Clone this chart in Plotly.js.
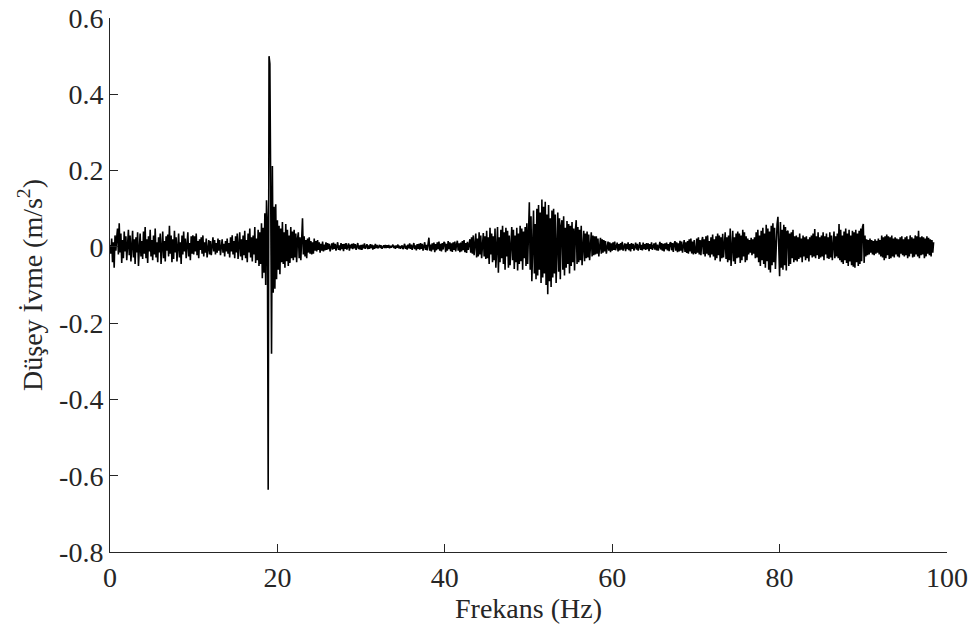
<!DOCTYPE html>
<html>
<head>
<meta charset="utf-8">
<script src="https://cdn.plot.ly/plotly-3.0.1.min.js"></script>
<style>html,body{margin:0;padding:0;background:#fff;}#chart{width:974px;height:634px;}</style>
</head>
<body>
<div id="chart"></div>
<script>
var band00to10 = [
  5, -18, 22, -40, 12, -55, 30, -10, 25, 48,
  -20, 62, -15, 35, -42, 18, -30, 40, -12, 28,
  -35, 15, 45, -22, 30, -38, 10, 42, -28, 20,
  -45, 25, -15, 38, -50, 22, 35, -25, 15, -32,
  40, -18, 52, -30, 20, -42, 28, -12, 45, -25,
  18, -35, 30, -20, 48, -28, 12, -40, 25, -15,
  35, -45, 22, 40, -30, 15, -38, 28, -10, 32,
  -25, 55, -18, 30, -40, 20, -32, 42, -15, 25,
  -38, 18, 35, -28, 12, -45, 30, -20, 40, -12,
  22, -30, 15, 38, -25, 10, -35, 28, -18, 30
];
var band10to18 = [
  -20, 28, -12, 35, -22, 15, -30, 20, -8, 25,
  -18, 30, -25, 12, -15, 22, -28, 10, 18, -20,
  15, -22, 8, 25, -12, 18, -20, 10, -15, 22,
  -10, 18, -22, 12, 20, -15, 8, -25, 15, -12,
  22, -18, 10, -28, 25, -12, 30, -20, 15, -30,
  28, -15, 35, -32, 12, 38, -25, 20, -35, 30,
  -22, 42, -30, 18, -40, 35, -15, 48, -28, 25,
  -38, 30, -20, 52, -42, 22, -35, 45, -50, 38
];
var band18to26 = [
  -45, 62, -82, 50, -68, 88, -100, 122, 60, -637,
  500, 480, 150, -280, 212, -120, 105, -110, 112, -85,
  70, -60, 55, -72, 48, -40, 65, -45, 38, -55,
  60, -38, 45, -50, 30, -42, 52, -30, 40, -35,
  45, -28, 35, -40, 22, 38, -30, 25, -35, 30,
  75, -20, 28, -25, 18, -30, 22, -15, 25, -18,
  15, -20, 12, -18, 22, -10, 15, -12, 18, -8,
  12, -15, 8, -10, 14, -12, 6, -9, 12, -8
];
var band26to43 = [
  10, -6, 8, -12, 5, 9, -7, 11, -5, 8,
  -10, 6, 12, -8, 4, -9, 10, -6, 7, -11,
  8, -5, 10, -7, 3, 9, -10, 6, -4, 8,
  -6, 9, -4, 7, -8, 5, 10, -6, 4, -7,
  5, -8, 6, -4, 9, -5, 3, 7, -6, 4,
  -5, 7, -3, 6, -7, 4, -5, 8, -3, 5,
  -4, 3, 5, -3, 4, -5, 2, 4, -3, 5,
  -3, 4, -2, 5, -4, 3, -2, 4, 6, -3,
  3, -5, 4, -2, 6, -4, 3, -5, 2, 4,
  -6, 4, 8, -5, 3, -7, 6, -4, 9, -5,
  6, -8, 5, 10, -6, 4, -9, 7, -5, 8,
  -7, 10, -5, 8, -10, 6, 12, -8, 5, -9,
  8, 24, -10, 6, -12, 9, -7, 11, -14, 7,
  -9, 12, -6, 14, -10, 8, -12, 10, -7, 13,
  10, -14, 8, -10, 15, -6, 12, -11, 9, -13,
  12, -8, 14, -12, 6, 16, -10, 9, -14, 11,
  -12, 15, -9, 18, -14, 10, -16, 13, -8, 17
];
var band43to60 = [
  20, -15, 25, -18, 30, -22, 15, 35, -28, 22,
  -25, 38, -20, 30, -30, 18, 36, -25, 28, -32,
  42, -30, 25, -45, 50, -20, 35, -40, 28, -35,
  48, -55, 30, 52, -68, 25, -40, 45, -30, 55,
  -45, 38, -60, 50, -25, 42, -55, 30, -48, 40,
  52, -35, 45, -58, 30, -40, 50, -62, 35, -45,
  55, -38, 48, -60, 40, -30, 52, -50, 62, -45,
  70, 117, -60, 80, -90, 55, 95, -70, 60, -85,
  100, -75, 110, -60, 90, -95, 124, -80, 105, -70,
  118, -100, 85, -124, 110, -90, 75, -105, 95, -80,
  100, -70, 85, -95, 60, 90, -65, 75, -85, 55,
  70, -60, 80, -75, 50, -55, 68, -45, 60, -70,
  55, -50, 65, -40, 48, -62, 42, 70, -45, 52,
  -40, 45, -35, 55, -48, 30, 42, -38, 35, -30,
  40, -28, 32, -35, 25, 38, -25, 30, -22, 28,
  -20, 28, -18, 22, -25, 15, 24, -18, 20, -15,
  18, -12, 15, -18, 10, 14, -10, 12, -14, 9
];
var band60to70 = [
  -10, 12, -8, 14, -9, 6, 11, -12, 7, -9,
  10, -7, 13, -10, 5, 9, -11, 8, -6, 12,
  -9, 7, -12, 10, -5, 8, -10, 6, 11, -7,
  8, -10, 6, 12, -8, 5, -9, 11, -6, 7,
  -8, 10, -6, 9, -11, 7, -5, 12, -8, 6,
  9, -7, 11, -9, 6, -10, 8, 13, -7, 10,
  -10, 8, -12, 9, -6, 11, -9, 7, -11, 10,
  12, -9, 10, -13, 8, 15, -10, 12, -14, 9,
  -12, 16, -10, 14, -15, 11, 18, -13, 12, -16,
  15, -18, 20, -12, 22, -17, 14, -20, 18, -15
];
var band70to99 = [
  -18, 22, -15, 25, -20, 18, -22, 15, 26, -19,
  20, -25, 28, -18, 30, -22, 15, -28, 25, -20,
  32, -25, 20, -35, 28, -30, 35, -22, 30, -38,
  25, -30, 34, -28, 20, 38, -32, 25, -40, 30,
  -35, 48, -50, 30, 42, -38, 25, -45, 35, -30,
  40, -28, 35, -42, 30, -35, 45, -25, 38, -40,
  28, -35, 22, -20, 18, -15, 24, -22, 20, -18,
  25, -30, 38, -28, 45, -40, 30, -50, 42, -35,
  50, -45, 35, -55, 58, -38, 48, -60, 40, -67,
  55, -48, 62, -40, 50, -58, 45, 60, 79, -50,
  -77, 65, -55, 45, -60, 58, -48, 52, -62, 40,
  42, -50, 35, -45, 38, -30, 45, -40, 28, -35,
  30, -38, 25, -32, 35, -28, 22, -40, 30, -25,
  25, -35, 28, -30, 20, -38, 25, -22, 30, -28,
  35, -25, 47, -30, 28, -22, 38, -32, 25, -28,
  30, -25, 38, -35, 28, -20, 35, -30, 25, -32,
  38, -28, 30, -35, 22, 40, -30, 28, -25, 35,
  -30, 60, -35, 45, -40, 30, -45, 40, -35, 48,
  -42, 35, -50, 45, -38, 30, -48, 42, -52, 38,
  -55, 45, -40, 35, -50, 42, -45, 48, -38, 52,
  60, -42, 30, -25, 20, -22, 18, -20, 22, -15,
  18, -20, 15, -22, 20, -18, 16, -15, 22, -20,
  18, -25, 30, -28, 25, -35, 28, -30, 32, -22,
  28, -32, 25, -30, 30, -25, 22, -28, 25, -20,
  22, -25, 20, -28, 25, -18, 28, -22, 20, -25,
  25, -22, 28, -30, 20, -25, 30, -18, 25, -28,
  22, -26, 30, -20, 28, -25, 42, -30, 25, -22,
  28, -20, 25, -30, 22, -25, 28, -18, 24, -22,
  20, -25, 18, -15, 12
];

var startFreq = 0;      // Hz
var freqStep = 0.1;     // Hz
var xTickVals = [0, 20, 40, 60, 80, 100];
var xTickText = ["0", "20", "40", "60", "80", "100"];
var yTickVals = [0.6, 0.4, 0.2, 0, -0.2, -0.4, -0.6, -0.8];
var yTickText = ["0.6", "0.4", "0.2", "0", "-0.2", "-0.4", "-0.6", "-0.8"];

var accelMilli = [].concat(band00to10, band10to18, band18to26, band26to43, band43to60, band60to70, band70to99);
var accel = accelMilli.map(function (v) { return v / 1000; }); // mm/s^2 -> m/s^2

var fontFam = "'Liberation Serif', 'Times New Roman', Times, 'DejaVu Serif', serif";
var axisColor = '#262626';

var trace = {
  type: 'scatter',
  mode: 'lines',
  x0: startFreq,
  dx: freqStep,
  y: accel,
  line: {color: '#000000', width: 1.6},
  hoverinfo: 'skip'
};

var layout = {
  width: 974,
  height: 634,
  margin: {l: 110, r: 27, t: 18, b: 82},
  paper_bgcolor: '#ffffff',
  plot_bgcolor: '#ffffff',
  showlegend: false,
  font: {family: fontFam, size: 28, color: axisColor},
  xaxis: {
    range: [0, 100],
    tickmode: 'array',
    tickvals: xTickVals,
    ticktext: xTickText,
    ticks: 'inside',
    ticklen: 8,
    tickwidth: 1,
    tickcolor: axisColor,
    showline: true,
    linecolor: axisColor,
    linewidth: 1,
    showgrid: false,
    zeroline: false,
    tickfont: {family: fontFam, size: 28, color: axisColor},
    title: {text: 'Frekans (Hz)', font: {family: fontFam, size: 28, color: axisColor}, standoff: 6},
    automargin: false
  },
  yaxis: {
    range: [-0.8, 0.6],
    tickmode: 'array',
    tickvals: yTickVals,
    ticktext: yTickText,
    ticks: 'inside',
    ticklen: 8,
    tickwidth: 1,
    tickcolor: axisColor,
    showline: true,
    linecolor: axisColor,
    linewidth: 1,
    showgrid: false,
    zeroline: false,
    tickfont: {family: fontFam, size: 28, color: axisColor},
    title: {text: 'Düşey İvme (m/s<sup>2</sup>)', font: {family: fontFam, size: 28, color: axisColor}, standoff: 8},
    automargin: false
  }
};

Plotly.newPlot('chart', [trace], layout, {staticPlot: true, displayModeBar: false});
</script>
</body>
</html>
